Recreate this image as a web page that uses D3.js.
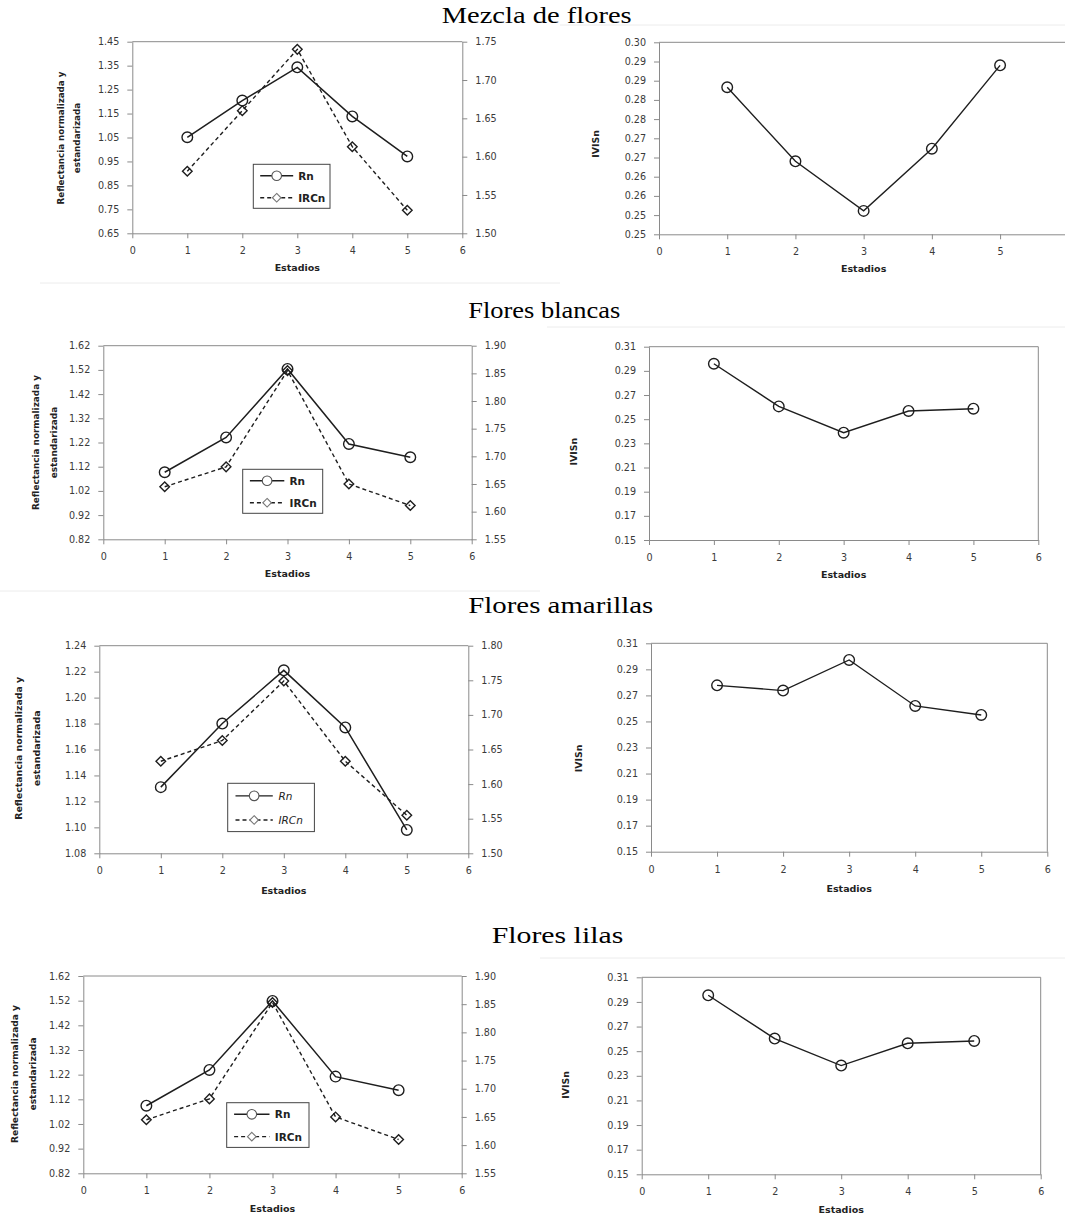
<!DOCTYPE html>
<html><head><meta charset="utf-8">
<script src="https://cdn.jsdelivr.net/npm/d3@7"></script>
<style>body{margin:0;background:#fff}</style>
</head><body>
<svg id="c" width="1065" height="1217"></svg>
<script>
// ---------- DATA ----------
const estadios = [1, 2, 3, 4, 5];
const xTicks = [0, 1, 2, 3, 4, 5, 6];
const panelTitles = ["Mezcla de flores", "Flores blancas", "Flores amarillas", "Flores lilas"];
const seriesNames = ["Rn", "IRCn"];
const leftAxisTitle = ["Reflectancia normalizada y", "estandarizada"];
const rightAxisTitle = "IVISn";
const xAxisTitle = "Estadios";

const mezclaRn = [1.051, 1.204, 1.343, 1.138, 0.971];
const mezclaIRCn = [1.581, 1.660, 1.740, 1.613, 1.530];
const mezclaIVISn = [0.2883, 0.2690, 0.2561, 0.2723, 0.2940];

const blancasRn = [1.097, 1.241, 1.524, 1.214, 1.159];
const blancasIRCn = [1.645, 1.681, 1.855, 1.650, 1.611];
const blancasIVISn = [0.2959, 0.2606, 0.2388, 0.2568, 0.2587];

const amarillasRn = [1.131, 1.180, 1.221, 1.177, 1.098];
const amarillasIRCn = [1.633, 1.663, 1.749, 1.633, 1.555];
const amarillasIVISn = [0.2777, 0.2737, 0.2972, 0.2619, 0.2550];

const lilasRn = [1.094, 1.239, 1.519, 1.212, 1.157];
const lilasIRCn = [1.645, 1.682, 1.853, 1.650, 1.610];
const lilasIVISn = [0.2954, 0.2602, 0.2383, 0.2564, 0.2583];

const mezclaLeftTicks = [0.65, 0.75, 0.85, 0.95, 1.05, 1.15, 1.25, 1.35, 1.45];
const mezclaRightTicks = [1.50, 1.55, 1.60, 1.65, 1.70, 1.75];
const mezclaIVISnTicks = [0.25, 0.255, 0.26, 0.265, 0.27, 0.275, 0.28, 0.285, 0.29, 0.295, 0.30];
const mezclaIVISnTickLabels = ["0.25", "0.25", "0.26", "0.26", "0.27", "0.27", "0.28", "0.28", "0.29", "0.29", "0.30"];
const blancasLeftTicks = [0.82, 0.92, 1.02, 1.12, 1.22, 1.32, 1.42, 1.52, 1.62];
const blancasRightTicks = [1.55, 1.60, 1.65, 1.70, 1.75, 1.80, 1.85, 1.90];
const amarillasLeftTicks = [1.08, 1.10, 1.12, 1.14, 1.16, 1.18, 1.20, 1.22, 1.24];
const amarillasRightTicks = [1.50, 1.55, 1.60, 1.65, 1.70, 1.75, 1.80];
const lilasLeftTicks = [0.82, 0.92, 1.02, 1.12, 1.22, 1.32, 1.42, 1.52, 1.62];
const lilasRightTicks = [1.55, 1.60, 1.65, 1.70, 1.75, 1.80, 1.85, 1.90];
const ivisTicks = [0.15, 0.17, 0.19, 0.21, 0.23, 0.25, 0.27, 0.29, 0.31];

// ---------- STYLE / LAYOUT ----------
const W = 1065;
const svg = d3.select("#c");
const AX = "#8a8a8a", TXT = "#3a3a3a", LINE = "#1e1e1e";
const tickFont = "DejaVu Sans", tickSize = 9.6;
const f2 = d3.format(".2f");

// faint chart-area borders
[[40, 283, 560, 283], [560, 25, 1065, 25], [547, 327, 1065, 327], [0, 591, 540, 591], [540, 958, 1065, 958]]
  .forEach(([x1, y1, x2, y2]) => svg.append("line").attr("x1", x1).attr("y1", y1).attr("x2", x2).attr("y2", y2)
    .attr("stroke", "#ececec").attr("stroke-width", 1));

// titles
const titleLayout = [
  {x: 441.7, y: 23.3, w: 190}, {x: 468.3, y: 317.7, w: 152},
  {x: 468.3, y: 613.3, w: 185}, {x: 491.7, y: 942.7, w: 131.6}];
panelTitles.forEach((t, i) => {
  const L = titleLayout[i];
  svg.append("text").attr("x", L.x).attr("y", L.y).text(t)
    .attr("font-family", "Liberation Serif").attr("font-size", 23).attr("fill", "#000")
    .attr("textLength", L.w).attr("lengthAdjust", "spacingAndGlyphs");
});

function styleAxis(g) {
  g.selectAll("path.domain").attr("stroke", AX).attr("stroke-width", 1);
  g.selectAll(".tick line").attr("stroke", AX).attr("stroke-width", 1);
  g.selectAll(".tick text").attr("font-family", tickFont).attr("font-size", tickSize).attr("fill", TXT);
}

function circleMark(g, cx, cy) {
  g.append("circle").attr("cx", cx).attr("cy", cy).attr("r", 5.3)
    .attr("fill", "none").attr("stroke", LINE).attr("stroke-width", 1.4);
}
function diamondMark(g, cx, cy) {
  const s = 4.8;
  g.append("path").attr("d", `M${cx},${cy - s}L${cx + s},${cy}L${cx},${cy + s}L${cx - s},${cy}Z`)
    .attr("fill", "none").attr("stroke", LINE).attr("stroke-width", 1.4);
}

function xAxisAndTitle(P, x) {
  const visible = xTicks.filter(d => x(d) <= W - 4);
  const gx = svg.append("g").attr("transform", `translate(0,${P.B})`)
    .call(d3.axisBottom(x).tickValues(visible).tickFormat(d3.format("d")).tickSize(5).tickSizeOuter(0).tickPadding(9));
  styleAxis(gx);
  svg.append("text").attr("x", (P.L + P.R) / 2).attr("y", P.xt).text(xAxisTitle)
    .attr("text-anchor", "middle").attr("dominant-baseline", "central")
    .attr("font-family", tickFont).attr("font-weight", "bold").attr("font-size", 9.5).attr("fill", "#222");
}

function dualPanel(P, leftTicks, rightTicks, rn, irc, italic) {
  const x = d3.scaleLinear().domain([xTicks[0], xTicks[xTicks.length - 1]]).range([P.L, P.R]);
  const yl = d3.scaleLinear().domain([leftTicks[0], leftTicks[leftTicks.length - 1]]).range([P.B, P.T]);
  const yr = d3.scaleLinear().domain([rightTicks[0], rightTicks[rightTicks.length - 1]]).range([P.B, P.T]);
  svg.append("line").attr("x1", P.L).attr("x2", P.R).attr("y1", P.T).attr("y2", P.T).attr("stroke", AX);
  const gl = svg.append("g").attr("transform", `translate(${P.L},0)`)
    .call(d3.axisLeft(yl).tickValues(leftTicks).tickFormat(f2).tickSize(5).tickSizeOuter(0).tickPadding(8));
  styleAxis(gl);
  const gr = svg.append("g").attr("transform", `translate(${P.R},0)`)
    .call(d3.axisRight(yr).tickValues(rightTicks).tickFormat(f2).tickSize(5).tickSizeOuter(0).tickPadding(8));
  styleAxis(gr);
  xAxisAndTitle(P, x);

  const g = svg.append("g");
  g.append("path").datum(estadios.map((e, i) => [x(e), yr(irc[i])])).attr("d", d3.line())
    .attr("fill", "none").attr("stroke", LINE).attr("stroke-width", 1.4).attr("stroke-dasharray", "4,3");
  g.append("path").datum(estadios.map((e, i) => [x(e), yl(rn[i])])).attr("d", d3.line())
    .attr("fill", "none").attr("stroke", LINE).attr("stroke-width", 1.5);
  estadios.forEach((e, i) => diamondMark(g, x(e), yr(irc[i])));
  estadios.forEach((e, i) => circleMark(g, x(e), yl(rn[i])));

  // legend
  const Lg = P.leg;
  svg.append("rect").attr("x", Lg.x).attr("y", Lg.y).attr("width", Lg.w).attr("height", Lg.h)
    .attr("fill", "#fff").attr("stroke", "#444").attr("stroke-width", 1);
  const rows = [Lg.y + Lg.h * 0.26, Lg.y + Lg.h * 0.76];
  const lx1 = Lg.x + Lg.w * 0.09, lx2 = Lg.x + Lg.w * 0.52, lm = (lx1 + lx2) / 2;
  svg.append("line").attr("x1", lx1).attr("x2", lx2).attr("y1", rows[0]).attr("y2", rows[0])
    .attr("stroke", LINE).attr("stroke-width", 1.4);
  svg.append("circle").attr("cx", lm).attr("cy", rows[0]).attr("r", 4.8).attr("fill", "#fff")
    .attr("stroke", "#555").attr("stroke-width", 1.1);
  svg.append("line").attr("x1", lx1).attr("x2", lx2).attr("y1", rows[1]).attr("y2", rows[1])
    .attr("stroke", LINE).attr("stroke-width", 1.4).attr("stroke-dasharray", "4,3");
  const s = 4.3;
  svg.append("path").attr("d", `M${lm},${rows[1] - s}L${lm + s},${rows[1]}L${lm},${rows[1] + s}L${lm - s},${rows[1]}Z`)
    .attr("fill", "#fff").attr("stroke", "#777").attr("stroke-width", 1.1);
  seriesNames.forEach((n, i) => {
    svg.append("text").attr("x", Lg.x + Lg.w * 0.585).attr("y", rows[i]).text(n)
      .attr("dominant-baseline", "central").attr("font-family", tickFont).attr("font-size", 10.5)
      .attr("font-weight", italic ? "normal" : "bold").attr("font-style", italic ? "italic" : "normal")
      .attr("fill", "#222");
  });

  // left y title (two lines)
  const Y = P.yt;
  [[Y.x1, leftAxisTitle[0], Y.len], [Y.x2, leftAxisTitle[1], Y.len * 0.53]].forEach(([xx, t, len]) => {
    svg.append("text").attr("transform", `translate(${xx},${Y.cy}) rotate(-90)`).text(t)
      .attr("text-anchor", "middle").attr("dominant-baseline", "central")
      .attr("font-family", tickFont).attr("font-weight", "bold").attr("font-size", 9.4).attr("fill", "#222")
      .attr("textLength", len).attr("lengthAdjust", "spacingAndGlyphs");
  });
}

function singlePanel(P, ticks, labels, vals) {
  const x = d3.scaleLinear().domain([xTicks[0], xTicks[xTicks.length - 1]]).range([P.L, P.R]);
  const y = d3.scaleLinear().domain([ticks[0], ticks[ticks.length - 1]]).range([P.B, P.T]);
  svg.append("line").attr("x1", P.L).attr("x2", Math.min(P.R, W)).attr("y1", P.T).attr("y2", P.T).attr("stroke", AX);
  svg.append("line").attr("x1", P.R).attr("x2", P.R).attr("y1", P.T).attr("y2", P.B).attr("stroke", AX);
  const gl = svg.append("g").attr("transform", `translate(${P.L},0)`)
    .call(d3.axisLeft(y).tickValues(ticks).tickFormat((d, i) => labels ? labels[i] : f2(d))
      .tickSize(5).tickSizeOuter(0).tickPadding(8));
  styleAxis(gl);
  xAxisAndTitle(P, x);
  const g = svg.append("g");
  g.append("path").datum(estadios.map((e, i) => [x(e), y(vals[i])])).attr("d", d3.line())
    .attr("fill", "none").attr("stroke", LINE).attr("stroke-width", 1.4);
  estadios.forEach((e, i) => circleMark(g, x(e), y(vals[i])));
  svg.append("text").attr("transform", `translate(${P.yt.x},${P.yt.cy}) rotate(-90)`).text(rightAxisTitle)
    .attr("text-anchor", "middle").attr("dominant-baseline", "central")
    .attr("font-family", tickFont).attr("font-weight", "bold").attr("font-size", 9.4).attr("fill", "#222");
}

// ---------- PANELS ----------
dualPanel({L: 132.3, T: 41.7, R: 462.3, B: 233.3, xt: 267,
  leg: {x: 253.3, y: 164.3, w: 76.7, h: 44}, yt: {x1: 60, x2: 76.7, cy: 138, len: 133}},
  mezclaLeftTicks, mezclaRightTicks, mezclaRn, mezclaIRCn, false);
singlePanel({L: 659, T: 42.3, R: 1068.3, B: 234.3, xt: 268, yt: {x: 595, cy: 144}},
  mezclaIVISnTicks, mezclaIVISnTickLabels, mezclaIVISn);

dualPanel({L: 103.3, T: 345.7, R: 471.7, B: 539.3, xt: 573.3,
  leg: {x: 242.7, y: 469.3, w: 80, h: 44}, yt: {x1: 35, x2: 53.3, cy: 442.5, len: 135}},
  blancasLeftTicks, blancasRightTicks, blancasRn, blancasIRCn, false);
singlePanel({L: 649, T: 346.7, R: 1038.3, B: 540, xt: 574.3, yt: {x: 573, cy: 451.7}},
  ivisTicks, null, blancasIVISn);

dualPanel({L: 99.3, T: 645.7, R: 468.3, B: 853.3, xt: 890,
  leg: {x: 227.7, y: 783.3, w: 86.7, h: 48.3}, yt: {x1: 18.3, x2: 36.7, cy: 748.3, len: 143}},
  amarillasLeftTicks, amarillasRightTicks, amarillasRn, amarillasIRCn, true);
singlePanel({L: 651, T: 643.3, R: 1047.3, B: 851.7, xt: 888.3, yt: {x: 578, cy: 758.3}},
  ivisTicks, null, amarillasIVISn);

dualPanel({L: 83.3, T: 976, R: 461.7, B: 1173.3, xt: 1208.3,
  leg: {x: 226.7, y: 1102.7, w: 82.3, h: 44.7}, yt: {x1: 14, x2: 32.3, cy: 1074, len: 138}},
  lilasLeftTicks, lilasRightTicks, lilasRn, lilasIRCn, false);
singlePanel({L: 641.7, T: 977.3, R: 1040.7, B: 1174.3, xt: 1209, yt: {x: 565, cy: 1085}},
  ivisTicks, null, lilasIVISn);
</script>
</body></html>
